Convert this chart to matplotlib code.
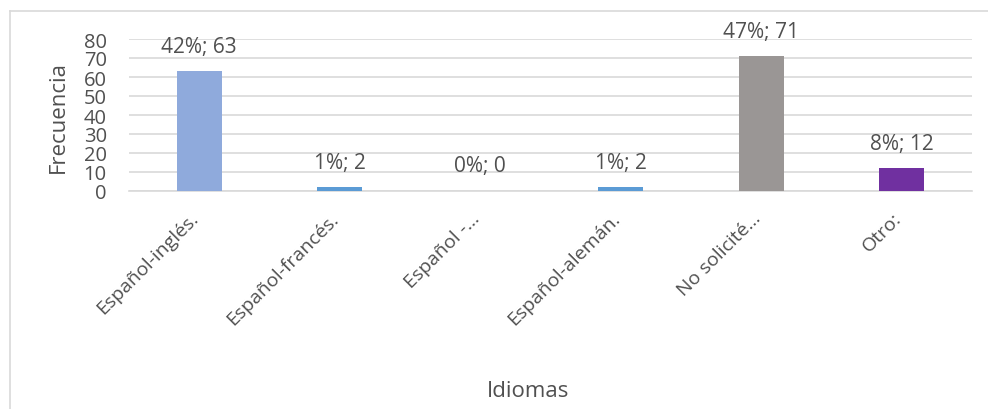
import matplotlib
matplotlib.use("Agg")
import matplotlib.pyplot as plt
from matplotlib.lines import Line2D

plt.rcParams['font.family'] = ['Open Sans', 'DejaVu Sans']

categories = ["Español-inglés.", "Español-francés.", "Español -…", "Español-alemán.", "No solicité…", "Otro:"]
frequencies = [63, 2, 0, 2, 71, 12]
bar_colors = ["#8FAADC", "#5B9BD5", "#5B9BD5", "#5B9BD5", "#9A9695", "#7030A0"]
y_ticks = [0, 10, 20, 30, 40, 50, 60, 70, 80]

total = sum(frequencies)
text_color = "#505050"
grid_color = "#D9D9D9"

fig = plt.figure(figsize=(9.88, 4.10), dpi=100)
fig.patch.set_facecolor("white")

# outer chart frame: left and top edges
fx, fy = 9.5 / 988, 1 - 11.5 / 410
fig.add_artist(Line2D([fx, fx], [0, fy], transform=fig.transFigure,
                      color=grid_color, linewidth=1.2))
fig.add_artist(Line2D([fx, 1], [fy, fy], transform=fig.transFigure,
                      color=grid_color, linewidth=1.2))

ax = fig.add_axes([129 / 988, 1 - 192 / 410, (972 - 129) / 988, (192 - 40) / 410])
x = list(range(len(categories)))
ax.bar(x, frequencies, width=0.32, color=bar_colors, zorder=3)

ax.set_xlim(-0.5, len(categories) - 0.5)
ax.set_ylim(0, 80)
ax.set_yticks(y_ticks)
ax.set_yticklabels([str(t) for t in y_ticks], fontsize=14.5, color=text_color)
ax.yaxis.grid(True, color=grid_color, linewidth=1.2, zorder=0)
ax.set_axisbelow(True)

for side in ("left", "right", "top"):
    ax.spines[side].set_visible(False)
ax.spines["bottom"].set_color(grid_color)
ax.spines["bottom"].set_linewidth(1.2)
ax.tick_params(axis="both", length=0)
ax.tick_params(axis="y", pad=16)

ax.set_xticks(x)
ax.set_xticklabels(categories, rotation=45, ha="right", va="baseline",
                   rotation_mode="anchor", fontsize=14, color=text_color)
ax.tick_params(axis="x", pad=20)

for xi, v in zip(x, frequencies):
    pct = round(v / total * 100)
    ax.annotate(f"{pct}%; {v}", (xi, v), xytext=(0, 18), textcoords="offset points",
                ha="center", va="center", fontsize=15, color=text_color)

fig.text(58 / 988, 1 - 117 / 410, "Frecuencia", rotation=90, ha="center", va="center",
         fontsize=16, color=text_color)
fig.text(528 / 988, 1 - 392 / 410, "Idiomas", ha="center", va="center",
         fontsize=16, color=text_color)

fig.savefig("out.png", dpi=100, facecolor="white")
